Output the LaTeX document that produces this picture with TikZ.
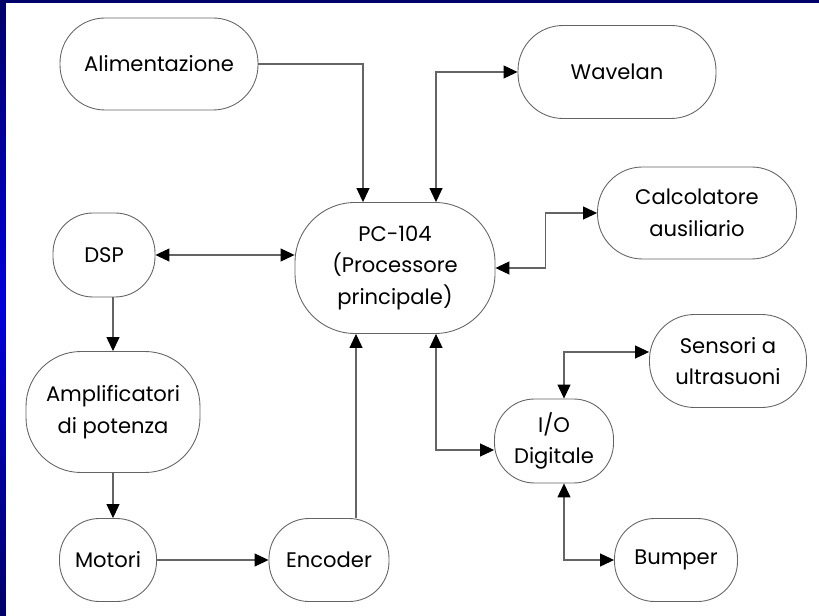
\documentclass[tikz,border=0pt]{standalone}
\usepackage{fontspec}
\setmainfont{Poppins}
\usepackage{tikz}
\usetikzlibrary{positioning,arrows.meta}
\definecolor{navy}{RGB}{0,0,105}
\definecolor{bblue}{RGB}{0,0,215}
\definecolor{wire}{RGB}{100,100,100}
\tikzset{d/.style={line width=0.6pt, draw=wire}}

\begin{document}
\begin{tikzpicture}[
blk/.style={rounded corners=0.8cm, draw=wire, line width=0.5pt, align=center, inner sep=0pt, font=\fontsize{12}{18}\selectfont},
big/.style={blk, rounded corners=0.9cm},
>={Triangle[length=0.28cm,width=0.26cm,color=black]},
]
\useasboundingbox (0,0) rectangle (16.38,12.3);
% blue frame
\shade[top color=navy, bottom color=navy, middle color=bblue] (0,0) rectangle (0.12,12.3);
\fill[navy] (0,12.24) rectangle (16.38,12.3);

\node[big, minimum width=3.96cm, minimum height=1.84cm] (alim) at (3.18,11.02) {Alimentazione};
\node[big, minimum width=3.96cm, minimum height=1.86cm] (wave) at (12.34,10.86) {Wavelan};
\node[big, minimum width=3.98cm, minimum height=1.84cm] (calc) at (13.94,8.04) {Calcolatore\\ausiliario};
\node[blk, minimum width=2.04cm, minimum height=1.68cm] (dsp) at (2.08,7.2) {DSP};
\node[big, minimum width=4.0cm, minimum height=2.62cm, rounded corners=1.2cm] (pc) at (7.9,6.94) {PC-104\\(Processore\\principale)};
\node[big, minimum width=3.48cm, minimum height=2.42cm, rounded corners=1.1cm] (ampl) at (2.26,4.06) {Amplificatori\\di potenza};
\node[blk, minimum width=1.94cm, minimum height=1.66cm] (mot) at (2.16,1.1) {Motori};
\node[blk, minimum width=2.4cm, minimum height=1.66cm] (enc) at (6.58,1.1) {Encoder};
\node[big, minimum width=3.14cm, minimum height=1.86cm] (sens) at (14.56,5.08) {Sensori a\\ultrasuoni};
\node[blk, minimum width=2.38cm, minimum height=1.68cm] (io) at (11.08,3.48) {I/O\\Digitale};
\node[blk, minimum width=2.46cm, minimum height=1.66cm] (bump) at (13.52,1.1) {Bumper};

% links to the PC-104
\draw[->,d] (alim.east) -| ([xshift=-0.64cm]pc.north);
\draw[<->,d] ([xshift=0.82cm]pc.north) |- (wave.west);
\draw[<->,d] (pc.east) -- ++(1.0,0) |- (calc.west);
\draw[<->,d] (dsp.east) -- (dsp.east -| pc.west);
\draw[->,d] ([xshift=0.54cm]enc.north) -- ([xshift=0.54cm]enc.north |- pc.south);
\draw[<->,d] ([xshift=0.82cm]pc.south) |- ([yshift=-0.18cm]io.west);
% motor chain
\draw[->,d] (ampl.north |- dsp.south) -- (ampl.north);
\draw[->,d] (ampl.south) -- (ampl.south |- mot.north);
\draw[->,d] (mot.east) -- (enc.west);
% digital I/O
\draw[<->,d] ([xshift=0.2cm]io.north) |- ([yshift=0.18cm]sens.west);
\draw[<->,d] ([xshift=0.2cm]io.south) |- (bump.west);
\end{tikzpicture}
\end{document}
